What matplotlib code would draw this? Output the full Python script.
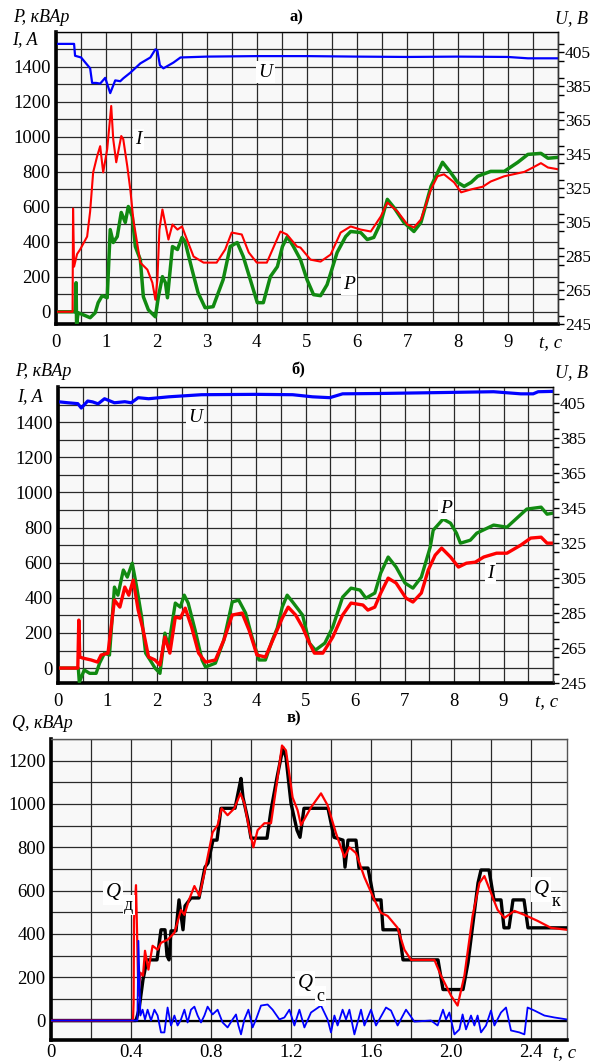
import matplotlib
matplotlib.use("Agg")
import matplotlib.pyplot as plt
from matplotlib.ticker import MultipleLocator, FixedLocator


# -----------------------------
# Data
# -----------------------------

# panel a) - voltage U (right axis, V)
a_u_t = [0, 0.36, 0.38, 0.5, 0.68, 0.72, 0.8, 0.88, 0.98, 1.08, 1.12, 1.18, 1.28, 1.34,
         1.48, 1.68, 1.88, 1.98, 2.02, 2.07, 2.14, 2.34, 2.48, 3.0, 4.0, 5.0, 6.0, 7.0,
         8.0, 9.0, 9.4, 10.0]
a_u = [410, 410, 403, 402, 395.6, 387, 387, 386.6, 390, 381, 384, 388.5, 388, 389.7,
       393, 398.5, 402, 406.8, 406, 397.4, 395.6, 399, 402, 402.5, 402.8, 402.8, 402.5,
       402.3, 402.5, 402.3, 401.5, 401.5]

# panel a) - current I (left axis, A)
a_i_t = [0, 0.33, 0.34, 0.36, 0.42, 0.48, 0.62, 0.68, 0.74, 0.82, 0.88, 0.94, 1.02, 1.1,
         1.14, 1.2, 1.3, 1.34, 1.42, 1.48, 1.54, 1.68, 1.82, 1.92, 1.98, 2.02, 2.06, 2.12,
         2.2, 2.24, 2.32, 2.42, 2.51, 2.57, 2.74, 2.94, 3.2, 3.37, 3.5, 3.7, 3.84, 4.0,
         4.2, 4.47, 4.6, 4.8, 4.87, 5.07, 5.27, 5.47, 5.67, 5.87, 6.07, 6.27, 6.47, 6.6,
         6.8, 7.0, 7.13, 7.27, 7.47, 7.6, 7.73, 7.93, 8.07, 8.27, 8.5, 8.66, 8.93, 9.33,
         9.5, 9.66, 9.8, 10.0]
a_i = [0, 0, 590, 258, 330, 356, 430, 574, 797, 890, 947, 797, 930, 1177,
       987, 855, 1005, 987, 832, 700, 528, 281, 241, 166, 69, 184, 470, 585,
       470, 413, 499, 470, 488, 442, 316, 281, 281, 356, 453, 442, 339, 281,
       281, 459, 442, 373, 367, 298, 287, 327, 453, 488, 470, 459, 545, 625,
       574, 499, 482, 528, 700, 775, 786, 740, 683, 700, 715, 745, 775, 800,
       825, 850, 825, 815]

# panel a) - active power P (left axis, kW)
a_p_t = [0, 0.38, 0.4, 0.41, 0.44, 0.54, 0.68, 0.78, 0.84, 0.92, 1.02, 1.08, 1.14, 1.22,
         1.3, 1.38, 1.44, 1.52, 1.58, 1.68, 1.74, 1.84, 1.98, 2.04, 2.12, 2.18, 2.22,
         2.32, 2.42, 2.51, 2.57, 2.71, 2.83, 2.97, 3.13, 3.33, 3.47, 3.61, 3.73, 3.87,
         4.01, 4.13, 4.27, 4.41, 4.51, 4.61, 4.73, 4.87, 5.0, 5.13, 5.27, 5.4, 5.6, 5.77,
         5.87, 6.07, 6.2, 6.33, 6.47, 6.6, 6.73, 6.93, 7.13, 7.27, 7.47, 7.7, 7.86, 8.0,
         8.13, 8.27, 8.4, 8.66, 8.93, 9.2, 9.4, 9.66, 9.8, 10.0]
a_p = [0, 0, 166, -75, -6, -17, -34, -6, 52, 92, 80, 470, 396, 430,
       568, 511, 602, 545, 373, 298, 86, 11, -29, 86, 201, 166, 80,
       373, 356, 425, 402, 241, 109, 23, 29, 184, 373, 396, 316, 184,
       52, 52, 201, 258, 373, 430, 373, 298, 184, 98, 92, 155, 339, 430,
       459, 453, 413, 425, 511, 643, 597, 511, 459, 511, 717, 855, 797, 740,
       717, 740, 775, 803, 803, 855, 900, 906, 878, 883]

# panel b) - voltage U (right axis, V)
b_u_t = [0, 0.2, 0.4, 0.47, 0.6, 0.7, 0.81, 0.94, 1.14, 1.35, 1.48, 1.62, 1.83, 2.24,
         2.9, 4.0, 4.74, 5.14, 5.49, 5.75, 6.5, 7.44, 8.8, 9.35, 9.6, 9.7, 10.0]
b_u = [405.6, 405, 404.5, 402, 406, 405.5, 404.4, 407.3, 405, 405.6, 405, 407.9, 407.3,
       408.4, 409.6, 409.8, 409.6, 408.4, 407.9, 410.1, 410.3, 410.7, 411.3, 410.1,
       410.1, 411.3, 411.5]

# panel b) - current I (left axis, A)
b_i_t = [0, 0.4, 0.42, 0.44, 0.5, 0.67, 0.8, 0.87, 1.01, 1.14, 1.25, 1.35, 1.43, 1.52,
         1.62, 1.72, 1.83, 1.96, 2.06, 2.16, 2.26, 2.37, 2.47, 2.57, 2.7, 2.84, 2.98,
         3.18, 3.35, 3.52, 3.72, 3.86, 4.02, 4.19, 4.4, 4.53, 4.65, 4.8, 4.94, 5.08,
         5.18, 5.35, 5.55, 5.75, 5.92, 6.16, 6.26, 6.4, 6.52, 6.67, 6.83, 7.03, 7.17,
         7.34, 7.48, 7.62, 7.75, 7.93, 8.09, 8.25, 8.43, 8.6, 8.86, 9.07, 9.35, 9.55,
         9.76, 9.88, 10.0]
b_i = [0, 0, 273, 63, 57, 46, 34, 74, 85, 387, 347, 461, 415, 501,
       330, 216, 63, 46, 17, 176, 85, 290, 284, 341, 233, 85, 34,
       46, 159, 302, 313, 216, 74, 63, 199, 284, 347, 302, 233, 142,
       85, 85, 176, 302, 370, 359, 330, 347, 427, 512, 484, 398, 376,
       427, 558, 643, 683, 632, 575, 597, 603, 632, 654, 654, 700, 740,
       745, 711, 711]

# panel b) - active power P (left axis, kW)
b_p_t = [0, 0.41, 0.43, 0.53, 0.64, 0.77, 0.84, 0.94, 1.04, 1.14, 1.21, 1.32, 1.4, 1.5,
         1.59, 1.69, 1.77, 1.86, 1.96, 2.06, 2.16, 2.23, 2.37, 2.47, 2.55, 2.63, 2.77,
         2.91, 2.98, 3.18, 3.35, 3.52, 3.65, 3.79, 3.92, 4.06, 4.19, 4.33, 4.43, 4.53,
         4.63, 4.74, 4.94, 5.08, 5.2, 5.39, 5.55, 5.75, 5.92, 6.1, 6.22, 6.4, 6.52, 6.67,
         6.83, 7.01, 7.17, 7.34, 7.52, 7.58, 7.78, 7.93, 8.05, 8.13, 8.33, 8.46, 8.8,
         9.07, 9.47, 9.76, 9.88, 10.0]
b_p = [0, 0, -80, -11, -30, -30, 28, 85, 74, 461, 415, 558, 518, 597,
       461, 290, 85, 46, 0, -30, 199, 120, 370, 347, 415, 370, 216,
       46, 6, 28, 159, 376, 387, 313, 176, 46, 46, 159, 228, 347,
       415, 376, 302, 142, 102, 142, 233, 404, 455, 444, 398, 427, 541, 632,
       575, 484, 455, 518, 689, 785, 848, 825, 768, 711, 728, 768, 814,
       802, 905, 916, 876, 882]

# panel c) - reactive power Q_k (black, step-like)
c_k_t = [0, 0.425, 0.44, 0.46, 0.48, 0.53, 0.55, 0.57, 0.58, 0.59, 0.6, 0.625, 0.64, 0.66,
         0.67, 0.7, 0.74, 0.77, 0.785, 0.81, 0.83, 0.85, 0.92, 0.94, 0.95, 0.96, 0.985,
         1.0, 1.08, 1.1, 1.13, 1.16, 1.175, 1.2, 1.23, 1.245, 1.265, 1.385, 1.415, 1.46,
         1.47, 1.485, 1.525, 1.54, 1.585, 1.615, 1.65, 1.66, 1.74, 1.76, 1.935, 1.96,
         2.06, 2.085, 2.135, 2.15, 2.19, 2.215, 2.25, 2.265, 2.29, 2.31, 2.365, 2.385,
         2.58]
c_k = [0, 0, 50, 189, 280, 280, 419, 419, 299, 280, 414, 414, 557, 419,
       529, 566, 566, 708, 727, 833, 833, 980, 980, 1072, 1118, 1030, 925,
       842, 842, 971, 1122, 1260, 1215, 1003, 879, 846, 980, 980, 846, 833,
       708, 833, 833, 704, 704, 557, 557, 419, 419, 280, 280, 143,
       143, 267, 635, 695, 695, 557, 557, 428, 428, 557, 557, 428,
       428]

# panel c) - reactive power Q_d (red)
c_d_t = [0, 0.41, 0.413, 0.415, 0.425, 0.43, 0.437, 0.447, 0.46, 0.47, 0.487, 0.508,
         0.533, 0.55, 0.583, 0.617, 0.65, 0.667, 0.69, 0.717, 0.742, 0.767, 0.808, 0.833,
         0.853, 0.883, 0.917, 0.947, 0.967, 0.992, 1.012, 1.033, 1.067, 1.1, 1.133,
         1.155, 1.175, 1.208, 1.233, 1.25, 1.3, 1.35, 1.383, 1.425, 1.467, 1.492, 1.525,
         1.567, 1.617, 1.65, 1.683, 1.733, 1.767, 1.8, 1.917, 1.95, 2.0, 2.033, 2.067,
         2.108, 2.142, 2.167, 2.2, 2.233, 2.267, 2.317, 2.367, 2.433, 2.5, 2.58]
c_d = [0, 0, 83, 464, 625, 419, 115, 221, 207, 322, 235, 345,
       327, 359, 373, 405, 511, 488, 557, 621, 575, 681, 869, 902,
       980, 948, 980, 1049, 1003, 879, 800, 879, 911, 911, 1122,
       1270, 1247, 1030, 971, 902, 984, 1049, 994, 865, 754, 800, 773,
       662, 557, 497, 483, 428, 327, 280, 280, 207, 115, 69, 207,
       483, 635, 667, 589, 511, 474, 506, 488, 460, 428, 419]

# panel c) - reactive power Q_c (blue)
c_c_t = [0, 0.432, 0.437, 0.447, 0.458, 0.47, 0.483, 0.5, 0.517, 0.533, 0.55, 0.567,
         0.583, 0.6, 0.617, 0.633, 0.65, 0.667, 0.683, 0.7, 0.717, 0.733, 0.75, 0.767,
         0.783, 0.808, 0.833, 0.858, 0.883, 0.908, 0.925, 0.937, 0.95, 0.967, 0.987,
         1.008, 1.025, 1.05, 1.083, 1.108, 1.142, 1.167, 1.192, 1.217, 1.242, 1.267, 1.3,
         1.35, 1.383, 1.4, 1.417, 1.433, 1.458, 1.475, 1.492, 1.517, 1.55, 1.567, 1.6,
         1.625, 1.675, 1.7, 1.733, 1.775, 1.817, 1.9, 1.933, 1.96, 1.975, 1.992, 2.017,
         2.042, 2.058, 2.075, 2.1, 2.117, 2.133, 2.15, 2.175, 2.2, 2.217, 2.25, 2.275,
         2.3, 2.342, 2.367, 2.383, 2.417, 2.467, 2.517, 2.58]
c_c = [0, 0, 368, 23, 50, 5, 50, 0, 50, 23, -55, -55,
       60, -23, 23, -23, 5, 50, -9, 50, 64, 23, -9, 23,
       64, 28, 50, -9, -32, 5, 28, -23, -64, 5, 50,
       -32, 5, 69, 74, 50, 5, 14, 50, -23, 50, -32, 37,
       69, 5, -55, 23, -23, 50, 5, 50, -64, 50, -23, 50,
       -23, 60, 46, -23, 50, -5, 0, -23, 50, 5, 37, -64,
       -41, 28, -41, 23, -23, 23, -55, -23, 46, -23, 37, 60,
       -46, -55, -64, 60, 46, 23, 14, 5]

ab_x_ticks = list(range(0, 10))
ab_left_ticks = list(range(0, 1401, 200))
ab_right_ticks = list(range(245, 406, 20))
c_x_ticks = [0, 0.4, 0.8, 1.2, 1.6, 2.0, 2.4]
c_x_labels = ["0", "0.4", "0.8", "1.2", "1.6", "2.0", "2.4"]
c_y_ticks = list(range(0, 1201, 200))


# -----------------------------
# Style
# -----------------------------

W, H = 590, 1063
plt.rcParams["font.family"] = ["Liberation Serif", "DejaVu Serif"]
plt.rcParams["font.size"] = 13.5

RED = "#ff0000"
GREEN = "#118a11"
BLUE = "#0000ff"
GRID = "#2a2a2a"
FACE = "#f8f8f8"


def px_box(left, top, right, bottom):
    return [left / W, 1 - bottom / H, (right - left) / W, (bottom - top) / H]


def fig_text(fig, px, py, s, **kw):
    fig.text(px / W, 1 - py / H, s, **kw)


def style_axes(ax, x_major, x_minor, y_major, y_minor, x_pad=7):
    ax.set_facecolor(FACE)
    ax.xaxis.set_major_locator(FixedLocator(x_major))
    ax.xaxis.set_minor_locator(MultipleLocator(x_minor))
    ax.yaxis.set_major_locator(FixedLocator(y_major))
    ax.yaxis.set_minor_locator(MultipleLocator(y_minor))
    ax.grid(True, which="both", color=GRID, linewidth=0.9)
    ax.set_axisbelow(True)
    ax.tick_params(axis="both", which="both", length=0)
    ax.tick_params(axis="x", pad=x_pad)
    ax.tick_params(axis="y", pad=4)
    ax.spines["left"].set_linewidth(2.6)
    ax.spines["bottom"].set_linewidth(2.6)
    for side in ("top", "right"):
        ax.spines[side].set_linewidth(1.0)
        ax.spines[side].set_color("#555555")


def style_right(axr):
    axr.yaxis.set_major_locator(FixedLocator(ab_right_ticks))
    axr.yaxis.set_minor_locator(MultipleLocator(10))
    axr.tick_params(axis="y", which="both", direction="out", length=4,
                    width=1, pad=1, labelsize=12.5)
    axr.spines["right"].set_linewidth(1.0)
    axr.spines["right"].set_color("#333333")


def label(ax, x, y, s, size=14):
    ax.text(x, y, s, fontsize=size, style="italic", ha="center", va="center",
            bbox=dict(facecolor="white", edgecolor="none", pad=1.5), zorder=6)


fig = plt.figure(figsize=(W / 100, H / 100), dpi=100)

# -----------------------------
# Panel a)
# -----------------------------

ax_a = fig.add_axes(px_box(56, 32, 558, 324))
style_axes(ax_a, ab_x_ticks, 0.5, ab_left_ticks, 100)
ax_a.set_xlim(0, 10)
ax_a.set_ylim(-70, 1600)
ax_a.plot(a_p_t, a_p, color=GREEN, linewidth=2.5, zorder=3)
ax_a.plot(a_i_t, a_i, color=RED, linewidth=1.5, zorder=4)

ax_a_r = ax_a.twinx()
ax_a_r.set_ylim(245, 417)
style_right(ax_a_r)
ax_a_r.plot(a_u_t, a_u, color=BLUE, linewidth=1.6)

label(ax_a, 4.17, 1371, "U")
label(ax_a, 1.64, 987, "I")
label(ax_a, 5.83, 155, "P")
ax_a.annotate("t, c", xy=(9.85, 0), xycoords=("data", "axes fraction"),
              xytext=(0, -7), textcoords="offset points", ha="center", va="top",
              style="italic", fontsize=13.5)

fig_text(fig, 13, 17, "P, кВАр", style="italic", fontsize=13, va="center")
fig_text(fig, 12, 40, "I, A", style="italic", fontsize=13, va="center")
fig_text(fig, 290, 17, "а)", weight="bold", fontsize=12, va="center")
fig_text(fig, 588, 19, "U, B", style="italic", fontsize=13, va="center", ha="right")

# -----------------------------
# Panel b)
# -----------------------------

ax_b = fig.add_axes(px_box(58, 387, 553, 683))
style_axes(ax_b, ab_x_ticks, 0.5, ab_left_ticks, 100)
ax_b.set_xlim(0, 10)
ax_b.set_ylim(-85, 1600)
ax_b.plot(b_p_t, b_p, color=GREEN, linewidth=2.4, zorder=3)
ax_b.plot(b_i_t, b_i, color=RED, linewidth=2.4, zorder=4)

ax_b_r = ax_b.twinx()
ax_b_r.set_ylim(245, 414)
style_right(ax_b_r)
ax_b_r.plot(b_u_t, b_u, color=BLUE, linewidth=2.3)

label(ax_b, 2.77, 1424, "U")
label(ax_b, 7.83, 911, "P")
label(ax_b, 8.74, 541, "I")
ax_b.annotate("t, c", xy=(9.88, 0), xycoords=("data", "axes fraction"),
              xytext=(0, -7), textcoords="offset points", ha="center", va="top",
              style="italic", fontsize=13.5)

fig_text(fig, 15, 372, "P, кВАр", style="italic", fontsize=13, va="center")
fig_text(fig, 17, 397, "I, A", style="italic", fontsize=13, va="center")
fig_text(fig, 291, 370, "б)", weight="bold", fontsize=12, va="center")
fig_text(fig, 588, 373, "U, B", style="italic", fontsize=13, va="center", ha="right")

# -----------------------------
# Panel c)
# -----------------------------

ax_c = fig.add_axes(px_box(51, 739, 567, 1040))
style_axes(ax_c, c_x_ticks, 0.2, c_y_ticks, 100, x_pad=3)
ax_c.set_xticklabels(c_x_labels)
ax_c.set_xlim(0, 2.58)
ax_c.set_ylim(-90, 1300)
ax_c.axhline(0, color="black", linewidth=1.6, zorder=2)
ax_c.plot(c_k_t, c_k, color="black", linewidth=2.4, zorder=3)
ax_c.plot(c_d_t, c_d, color=RED, linewidth=1.6, zorder=4)
ax_c.plot(c_c_t, c_c, color=BLUE, linewidth=1.3, zorder=5)


def q_label(ax, x, y, sub):
    ax.text(x, y, "Q", fontsize=15, style="italic", ha="center", va="center",
            bbox=dict(facecolor="white", edgecolor="none", pad=2), zorder=6)
    ax.annotate(sub, xy=(x, y), xytext=(8, -9), textcoords="offset points",
                fontsize=13, ha="left", va="center", zorder=7,
                bbox=dict(facecolor="white", edgecolor="none", pad=1))


q_label(ax_c, 0.31, 590, "д")
q_label(ax_c, 1.27, 170, "с")
q_label(ax_c, 2.45, 605, "к")
ax_c.annotate("t, c", xy=(2.57, 0), xycoords=("data", "axes fraction"),
              xytext=(0, -3), textcoords="offset points", ha="center", va="top",
              style="italic", fontsize=13.5, annotation_clip=False)

fig_text(fig, 12, 723, "Q, кВАр", style="italic", fontsize=13, va="center")
fig_text(fig, 287, 718, "в)", weight="bold", fontsize=12, va="center")

fig.savefig("out.png", dpi=100)
